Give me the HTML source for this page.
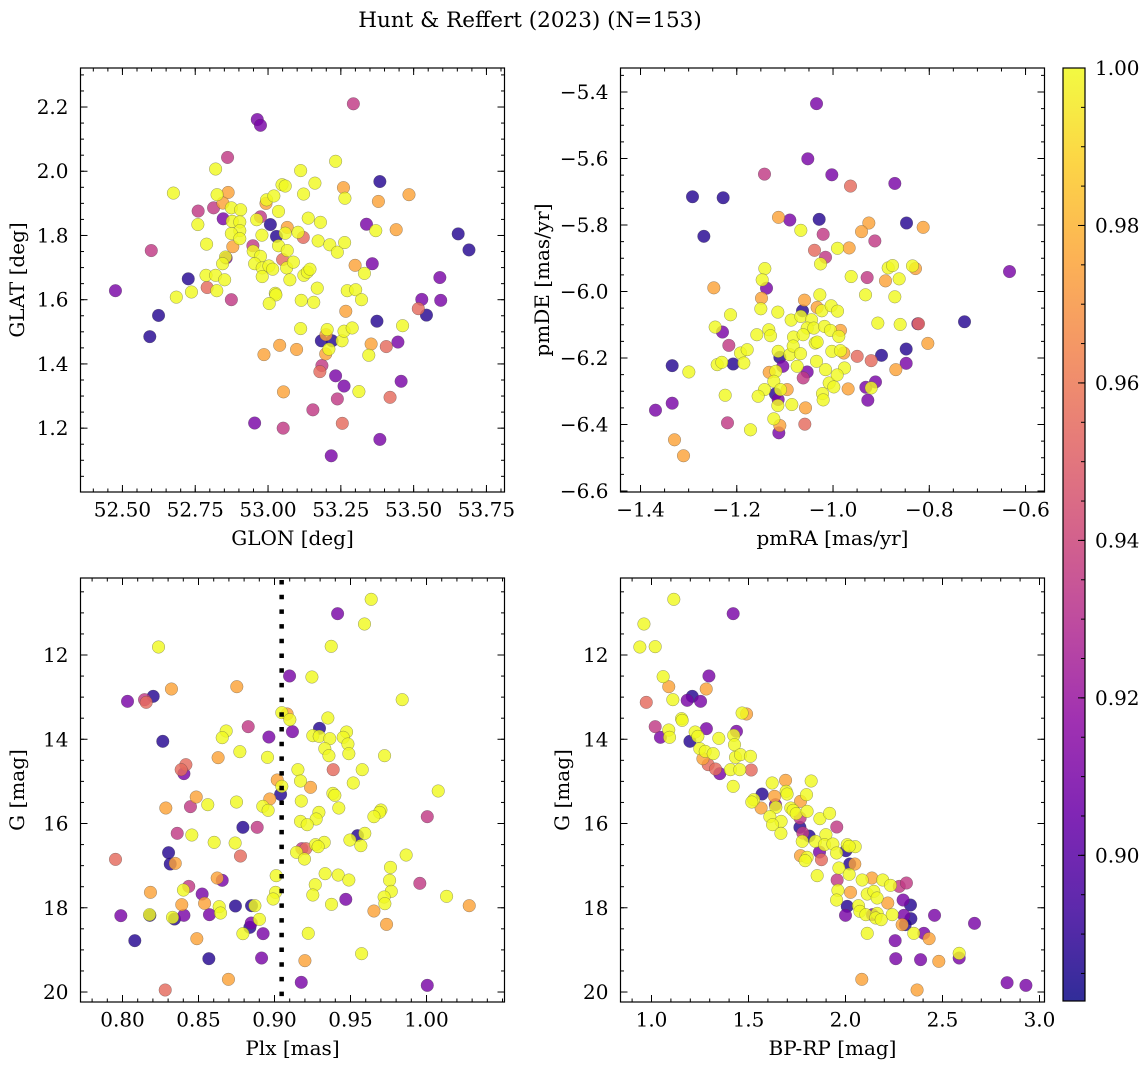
<!DOCTYPE html>
<html><head><meta charset="utf-8"><style>
body{margin:0;background:#fff;}
svg{display:block;font-family:"DejaVu Serif","Liberation Serif",serif;}
</style></head><body>
<svg id="fig" width="1148" height="1068" viewBox="0 0 1148 1068" xmlns="http://www.w3.org/2000/svg">
<rect width="1148" height="1068" fill="#fff"/>
<text x="530" y="27" font-size="21.5" text-anchor="middle">Hunt &amp; Reffert (2023) (N=153)</text>
</svg>
<script>
// ---------- Panel 1 data: GLON / GLAT ----------
const p1Glon = [53.293,52.963,52.974,52.861,52.820,53.112,53.232,53.384,52.675,52.825,52.863,53.048,53.059,53.161,53.122,53.259,53.264,53.379,53.484,52.760,52.813,52.845,52.846,52.874,52.906,52.877,52.903,52.903,52.874,52.903,52.759,52.974,52.961,52.995,52.993,53.020,53.036,53.008,53.029,53.066,53.059,53.103,53.121,53.138,53.180,52.979,52.789,52.879,52.948,52.949,52.974,52.854,52.856,52.844,53.036,53.066,53.050,53.064,53.087,53.075,52.954,52.980,53.003,53.016,52.980,53.123,53.135,53.144,53.172,53.212,53.238,53.263,53.338,53.370,53.440,53.299,53.331,53.358,53.653,53.690,52.599,52.726,52.787,52.820,52.851,52.791,52.824,52.737,52.685,52.874,52.476,53.025,53.027,53.004,53.114,53.157,53.169,53.272,53.301,53.321,53.590,53.528,53.593,53.516,53.544,52.624,52.594,53.267,53.374,53.462,53.112,53.203,53.199,53.183,53.220,53.254,53.261,53.289,53.209,53.198,53.040,53.098,52.986,53.354,53.346,53.406,53.446,53.185,53.178,53.232,53.261,53.312,53.053,53.238,53.419,53.457,53.154,53.255,52.954,53.052,53.384,53.217];
const p1Glat = [2.210,2.161,2.143,2.043,2.007,2.002,2.031,1.968,1.932,1.927,1.934,1.958,1.954,1.963,1.929,1.949,1.916,1.906,1.927,1.876,1.886,1.901,1.852,1.886,1.880,1.844,1.842,1.815,1.806,1.790,1.834,1.858,1.849,1.911,1.900,1.923,1.875,1.834,1.797,1.825,1.807,1.810,1.794,1.854,1.841,1.801,1.773,1.765,1.768,1.751,1.735,1.733,1.730,1.712,1.768,1.753,1.725,1.699,1.717,1.662,1.712,1.699,1.705,1.695,1.672,1.676,1.686,1.695,1.783,1.771,1.748,1.778,1.835,1.815,1.818,1.707,1.682,1.712,1.805,1.755,1.753,1.665,1.676,1.676,1.662,1.638,1.628,1.624,1.608,1.600,1.628,1.620,1.615,1.588,1.598,1.592,1.636,1.628,1.631,1.600,1.669,1.601,1.598,1.572,1.552,1.551,1.485,1.564,1.533,1.519,1.510,1.507,1.491,1.472,1.472,1.472,1.502,1.512,1.446,1.431,1.458,1.445,1.429,1.462,1.427,1.454,1.468,1.395,1.376,1.363,1.331,1.314,1.313,1.291,1.296,1.346,1.257,1.215,1.216,1.200,1.165,1.114];
const p1Prob = [.935,.91,.91,.935,1,1,1,.887,1,1,.975,1,1,1,1,.975,1,.975,.975,.935,.935,.975,.91,1,1,1,1,1,1,1,1,.935,1,1,.975,1,1,.887,.887,.975,1,1,.955,1,1,1,1,.975,.935,1,1,1,.91,1,1,1,.955,1,1,1,1,1,1,1,1,1,1,1,1,1,1,1,.91,1,.975,.975,1,.91,.887,.887,.935,.887,1,1,1,.955,1,1,1,.935,.91,1,1,1,1,1,1,1,1,1,.91,.91,.91,.955,.887,.887,.887,.975,.887,1,1,1,.975,.887,.887,1,1,1,1,.975,.975,.975,.975,.975,1,.955,.91,.935,.955,.91,.91,1,.975,.935,.955,.91,.935,.955,.91,.935,.91,.91];
const p1XTicks = [52.50,52.75,53.00,53.25,53.50,53.75];
const p1XLabels = ["52.50","52.75","53.00","53.25","53.50","53.75"];
const p1YTicks = [1.2,1.4,1.6,1.8,2.0,2.2];
const p1YLabels = ["1.2","1.4","1.6","1.8","2.0","2.2"];

// ---------- Panel 2 data: pmRA / pmDE ----------
const p2PmRA = [-1.0343,-1.0524,-1.1424,-1.0025,-0.9637,-0.8716,-1.2920,-1.2283,-1.2684,-1.1133,-1.0898,-1.0288,-1.0669,-1.0205,-0.9256,-0.9408,-0.8473,-0.8127,-0.9131,-1.0385,-0.9907,-0.9665,-1.0156,-1.0260,-1.1417,-1.1472,-1.1382,-1.1486,-1.1500,-1.2477,-0.9623,-0.9291,-0.9325,-0.8854,-0.8764,-0.8910,-0.8626,-0.8349,-0.8287,-0.8716,-0.6333,-1.0593,-1.0274,-1.0634,-1.0330,-1.0233,-1.0039,-0.9907,-1.1147,-1.0870,-1.0669,-1.0447,-1.0537,-1.0399,-1.0177,-1.0053,-0.9845,-0.9880,-1.2130,-1.2449,-1.2297,-1.1334,-1.1299,-1.1583,-1.0821,-1.0621,-1.0371,-1.0330,-0.9069,-0.8605,-0.8224,-0.8238,-0.7268,-1.2165,-1.1922,-1.1784,-1.1853,-1.2407,-1.2311,-1.2075,-1.1140,-1.1105,-1.0898,-1.0828,-1.0676,-1.1043,-1.0745,-1.0537,-1.0620,-1.0343,-1.0156,-1.0025,-0.9845,-0.9776,-0.9762,-0.9498,-0.9207,-0.8993,-0.8480,-0.8480,-0.8695,-0.8030,-1.3342,-1.2996,-1.1327,-1.1189,-1.1230,-1.1424,-1.1196,-1.1091,-1.0953,-1.1556,-1.1140,-1.1147,-1.0856,-1.0572,-1.0080,-0.9983,-1.0219,-1.0205,-0.9914,-0.9686,-0.9318,-0.9207,-0.9118,-0.9277,-1.2241,-1.3342,-1.3689,-1.2193,-1.1715,-1.1230,-1.1105,-1.1126,-1.0586,-1.3294,-1.3107];
const p2PmDE = [-5.435,-5.601,-5.647,-5.649,-5.683,-5.675,-5.715,-5.718,-5.834,-5.777,-5.785,-5.783,-5.816,-5.828,-5.794,-5.820,-5.794,-5.807,-5.848,-5.876,-5.870,-5.869,-5.897,-5.917,-5.931,-5.965,-5.990,-6.020,-6.052,-5.989,-5.955,-5.958,-6.010,-5.929,-5.922,-5.968,-5.962,-5.923,-5.931,-6.016,-5.940,-6.026,-6.010,-6.058,-6.048,-6.058,-6.043,-6.059,-6.062,-6.086,-6.075,-6.085,-6.110,-6.110,-6.105,-6.117,-6.117,-6.135,-6.070,-6.107,-6.122,-6.115,-6.133,-6.130,-6.137,-6.130,-6.155,-6.152,-6.095,-6.099,-6.097,-6.097,-6.091,-6.162,-6.185,-6.175,-6.215,-6.220,-6.213,-6.218,-6.180,-6.198,-6.190,-6.164,-6.187,-6.225,-6.225,-6.242,-6.260,-6.210,-6.235,-6.180,-6.178,-6.185,-6.230,-6.195,-6.208,-6.192,-6.173,-6.216,-6.235,-6.156,-6.223,-6.242,-6.243,-6.240,-6.270,-6.295,-6.308,-6.295,-6.295,-6.315,-6.325,-6.343,-6.340,-6.350,-6.275,-6.287,-6.307,-6.326,-6.251,-6.293,-6.288,-6.290,-6.272,-6.327,-6.312,-6.336,-6.357,-6.395,-6.416,-6.383,-6.403,-6.425,-6.399,-6.446,-6.494];
const p2Prob = [.91,.91,.935,.91,.955,.91,.887,.887,.887,.975,.91,.887,1,.935,.975,.975,.887,.975,.935,.955,1,.975,.935,1,1,1,.91,.975,1,.975,1,.935,1,1,1,.975,1,1,.975,1,.91,.975,1,.887,.975,1,1,1,1,1,1,1,1,1,1,1,.975,1,1,1,.91,1,1,1,1,1,1,1,1,1,.955,.91,.887,.935,1,1,1,1,1,.887,1,.887,1,1,1,.91,1,.91,.935,1,1,1,1,.975,1,.955,.955,.887,.887,.91,.975,.975,.887,1,.975,1,1,1,.887,1,.975,1,.91,1,1,.975,1,1,1,1,1,.975,.91,1,.91,.91,1,.91,.91,.935,1,1,.975,.91,.955,.975,.975];
const p2XTicks = [-1.4,-1.2,-1.0,-0.8,-0.6];
const p2XLabels = ["\u22121.4","\u22121.2","\u22121.0","\u22120.8","\u22120.6"];
const p2YTicks = [-6.6,-6.4,-6.2,-6.0,-5.8,-5.6,-5.4];
const p2YLabels = ["\u22126.6","\u22126.4","\u22126.2","\u22126.0","\u22125.8","\u22125.6","\u22125.4"];

// ---------- Panel 3 data: Plx / G ----------
const p3Plx = [0.9636,0.9415,0.9592,0.8237,0.9373,0.9099,0.9246,0.8752,0.8322,0.8033,0.8202,0.8145,0.8156,0.9840,0.9048,0.9083,0.9101,0.9351,0.8827,0.8963,0.8682,0.8656,0.9118,0.9296,0.9252,0.9294,0.9364,0.9474,0.9452,0.9483,0.9331,0.9358,0.9489,0.9724,0.8265,0.8772,0.8629,0.8954,0.8417,0.8386,0.8404,0.9154,0.9386,0.9577,0.9018,0.9171,0.9048,0.9237,0.9518,1.0077,0.9040,0.8969,0.9176,0.8485,0.8285,0.8447,0.8561,0.8750,0.8923,0.8958,0.9384,0.9397,0.9423,0.9292,0.9274,0.9700,0.9691,0.9654,1.0005,0.9171,0.9215,0.8792,0.8886,0.8360,0.8456,0.8603,0.8741,0.8776,0.9546,0.9594,0.9496,0.9568,0.9327,0.9270,0.9287,0.9180,0.9206,0.9145,0.9197,0.9866,0.8303,0.8314,0.8347,0.7954,0.9011,0.9333,0.9419,0.9489,0.9763,0.9757,0.9768,0.9721,0.9726,0.9956,0.9268,0.9252,1.0132,1.0281,0.9654,0.9737,0.9469,0.9375,0.8623,0.8656,0.8436,0.8401,0.8184,0.8524,0.8540,0.8390,0.8636,0.8645,0.8743,0.8849,0.8871,0.9007,0.8991,0.7989,0.8180,0.8178,0.8342,0.8329,0.8404,0.8572,0.8901,0.8847,0.8838,0.8792,0.8925,0.8081,0.8489,0.8568,0.8915,0.9222,0.9200,0.9573,0.8697,0.8281,0.9176,1.0005];
const p3G = [10.678,11.019,11.264,11.810,11.794,12.498,12.522,12.752,12.807,13.100,12.981,13.060,13.124,13.060,13.369,13.400,13.535,13.495,13.701,13.947,13.804,13.962,13.820,13.741,13.915,13.931,13.986,13.828,13.954,14.113,14.223,14.390,14.342,14.390,14.049,14.295,14.437,14.429,14.603,14.722,14.817,14.722,14.722,14.722,14.967,14.991,15.118,15.141,15.038,15.228,15.308,15.418,15.466,15.371,15.632,15.600,15.553,15.490,15.592,15.687,15.284,15.331,15.632,15.735,15.893,15.680,15.735,15.838,15.838,15.949,16.028,16.091,16.091,16.233,16.273,16.447,16.463,16.772,16.289,16.233,16.392,16.526,16.447,16.502,16.550,16.597,16.597,16.684,16.843,16.748,16.692,16.961,16.946,16.851,17.238,17.191,17.223,17.341,17.041,17.349,17.610,17.745,17.903,17.420,17.452,17.697,17.729,17.951,18.077,18.394,17.800,17.919,17.294,17.349,17.492,17.579,17.634,17.674,17.895,17.927,17.974,18.125,17.958,17.951,17.951,17.634,17.792,18.188,18.180,18.164,18.267,18.228,18.180,18.164,18.275,18.362,18.465,18.615,18.615,18.781,18.734,19.209,19.193,18.607,19.256,19.090,19.699,19.952,19.770,19.842];
const p3Prob = [1,.91,1,1,1,.91,1,.975,.975,.91,.887,.935,.955,1,1,.975,1,1,.935,.91,1,1,.91,.887,1,1,1,1,1,1,1,1,1,1,.887,1,.975,1,.955,.955,.91,1,.955,1,.975,1,1,.975,1,1,.887,.975,1,.975,.975,.935,1,1,1,1,1,1,1,1,1,1,1,1,.935,1,1,.887,.935,.935,1,1,1,.955,.887,1,1,1,1,1,1,.935,.955,1,1,1,.887,.887,.975,.955,1,1,1,1,1,1,1,1,1,.935,1,1,1,.975,.975,.975,.91,1,.975,.91,.935,1,.975,.91,.975,.975,1,1,.887,.887,1,1,1,.91,.887,1,.887,1,.91,.91,1,.91,.887,1,.91,.887,.975,.887,.91,1,.975,1,.975,.955,.91,.91];
const p3XTicks = [0.80,0.85,0.90,0.95,1.00];
const p3XLabels = ["0.80","0.85","0.90","0.95","1.00"];
const p3YTicks = [12,14,16,18,20];
const p3YLabels = ["12","14","16","18","20"];
const p3CutPlx = [0.9047];

// ---------- Panel 4 data: BP-RP / G ----------
const p4BpRp = [1.115,1.421,0.961,0.940,1.019,1.060,1.296,1.089,1.282,0.973,1.110,1.184,1.210,1.253,1.467,1.490,1.155,1.158,1.019,1.046,1.089,1.093,1.283,1.198,1.225,1.239,1.347,1.438,1.424,1.428,1.249,1.277,1.318,1.265,1.292,1.330,1.352,1.407,1.455,1.433,1.459,1.510,1.514,1.421,1.691,1.823,1.622,1.570,1.634,1.694,1.699,1.799,1.527,1.517,1.565,1.639,1.641,1.768,1.718,1.730,1.746,1.766,1.802,1.610,1.668,1.624,1.667,1.868,1.918,1.955,1.765,1.780,1.813,1.777,1.845,1.899,1.892,1.935,2.009,2.050,2.002,2.019,1.866,1.768,1.802,1.876,1.954,1.792,2.022,2.048,1.966,2.019,1.854,1.957,2.086,2.136,2.192,2.232,2.277,2.314,1.961,2.026,2.112,2.146,2.163,2.218,2.297,2.335,1.954,2.009,2.000,2.067,2.074,2.105,2.139,2.163,2.156,2.184,2.241,2.301,2.337,2.308,2.292,2.352,2.404,2.431,2.112,2.459,2.665,2.256,2.259,2.387,2.481,2.586,2.586,2.084,2.369,2.833,2.930];
const p4G = [10.678,11.019,11.264,11.810,11.802,12.514,12.498,12.752,12.807,13.124,13.060,13.076,12.981,13.100,13.377,13.400,13.511,13.551,13.701,13.954,13.780,13.954,13.749,14.049,13.828,13.931,13.978,13.812,13.907,14.129,14.223,14.287,14.342,14.461,14.603,14.706,14.817,14.722,14.722,14.429,14.366,14.405,14.730,15.118,14.975,14.991,15.038,15.300,15.355,15.236,15.300,15.315,15.434,15.490,15.632,15.553,15.616,15.474,15.632,15.687,15.766,15.870,15.711,15.838,15.949,16.028,16.233,15.885,15.759,16.083,16.091,16.226,16.297,16.423,16.423,16.265,16.502,16.487,16.502,16.550,16.645,16.542,16.677,16.764,16.803,16.859,16.700,16.882,16.961,16.961,17.056,17.207,17.238,17.341,17.341,17.294,17.341,17.468,17.492,17.412,17.586,17.634,17.674,17.610,17.768,17.887,17.816,17.935,17.816,17.966,18.180,17.951,18.085,18.164,18.164,18.133,18.243,18.283,18.164,18.180,18.259,18.401,18.401,18.607,18.607,18.734,18.607,18.180,18.370,18.781,19.209,19.232,19.272,19.193,19.082,19.699,19.952,19.779,19.842];
const p4Prob = [1,.91,1,1,1,1,.91,.975,.975,.955,1,.91,.887,.91,1,.975,1,1,.935,.91,1,1,.91,.887,1,1,1,.91,1,1,1,1,1,.975,.955,.955,.91,1,1,1,1,1,.955,1,.975,1,1,.887,.975,1,1,1,1,1,.975,.91,1,.975,1,1,1,.935,1,1,1,1,1,1,1,.935,.887,.935,.887,1,1,1,1,1,1,1,.887,1,.91,.975,1,.955,1,1,.887,.975,1,1,1,.935,1,.975,1,1,.935,.935,1,.975,1,1,1,.975,.91,.887,1,.887,.91,1,1,1,.91,1,1,1,1,.91,.887,.887,.975,1,.91,.975,1,.91,.91,.91,.91,.91,.975,.91,1,.975,.975,.91,.91];
const p4XTicks = [1.0,1.5,2.0,2.5,3.0];
const p4XLabels = ["1.0","1.5","2.0","2.5","3.0"];
const p4YTicks = [12,14,16,18,20];
const p4YLabels = ["12","14","16","18","20"];

// ---------- Colorbar ----------
const cbTicks = [0.90,0.92,0.94,0.96,0.98,1.00];
const cbLabels = ["0.90","0.92","0.94","0.96","0.98","1.00"];
const cbMin = 0.8815, cbMax = 1.0;

const FS = 20;
const NS = "http://www.w3.org/2000/svg";
const svg = document.getElementById('fig');
function mk(tag, attrs, parent){
  const e = document.createElementNS(NS, tag);
  for (const k in attrs) e.setAttribute(k, attrs[k]);
  (parent||svg).appendChild(e);
  return e;
}
const plasmaStops = ["#0d0887","#41049d","#6a00a8","#8f0da4","#b12a90","#cc4778","#e16462","#f2844b","#fca636","#fcce25","#f0f921"];
function hex2rgb(h){return [parseInt(h.substr(1,2),16),parseInt(h.substr(3,2),16),parseInt(h.substr(5,2),16)];}
function plasma(t){
  t = Math.max(0, Math.min(1, t));
  const s = t*10, i = Math.min(9, Math.floor(s)), f = s - i;
  const a = hex2rgb(plasmaStops[i]), b = hex2rgb(plasmaStops[i+1]);
  return 'rgb(' + a.map((v,k)=>Math.round(v+(b[k]-v)*f)).join(',') + ')';
}
function cmap(p){ return plasma((p-cbMin)/(cbMax-cbMin)); }

function panel(o){
  const g = mk('g', {});
  
  
  const L=o.x0, T=o.y0, W=424, H=424;
  const sx = v => L + (v-o.xmin)/(o.xmax-o.xmin)*W;
  const sy = o.invert ? (v => T + (v-o.ymin)/(o.ymax-o.ymin)*H) : (v => T + (o.ymax-v)/(o.ymax-o.ymin)*H);
  const n = Math.min(o.xs.length, o.ys.length, o.ps.length);
  const idx = [];
  for (let i=0;i<n;i++) idx.push(i);
  idx.sort((a,b)=>o.ps[a]-o.ps[b]);
  const pg = mk('g', {}, g);
  
  
  for (const i of idx){
    const c = mk('circle', {cx:sx(o.xs[i]), cy:sy(o.ys[i]), r:6.3, fill:cmap(o.ps[i]), 'fill-opacity':0.82, stroke:'#444', 'stroke-opacity':0.55, 'stroke-width':0.5}, pg);
    
    
  }
  if (o.vline){
    for (const v of o.vline){
      const l = mk('line', {x1:sx(v), x2:sx(v), y1:T+2, y2:T+H, stroke:'#000', 'stroke-width':4.5, 'stroke-dasharray':'4.5 10.2'}, g);
      
      
    }
  }
  const fr = mk('rect', {x:L, y:T, width:W, height:H, fill:'none', stroke:'#000', 'stroke-width':1.2}, g);
  
  
  const tk = mk('g', {stroke:'#000','stroke-width':1}, g);
  
  
  const lo = Math.ceil(o.xmin/o.xminor - 1e-9), hi = Math.floor(o.xmax/o.xminor + 1e-9);
  for (let k=lo;k<=hi;k++){ const x=sx(k*o.xminor); mk('line',{x1:x,x2:x,y1:T+H,y2:T+H-3.5},tk); mk('line',{x1:x,x2:x,y1:T,y2:T+3.5},tk); }
  const lo2 = Math.ceil(o.ymin/o.yminor - 1e-9), hi2 = Math.floor(o.ymax/o.yminor + 1e-9);
  for (let k=lo2;k<=hi2;k++){ const y=sy(k*o.yminor); mk('line',{x1:L,x2:L+3.5,y1:y,y2:y},tk); mk('line',{x1:L+W,x2:L+W-3.5,y1:y,y2:y},tk); }
  o.xt.forEach((v,i)=>{
    const x=sx(v);
    mk('line',{x1:x,x2:x,y1:T+H,y2:T+H-7},tk); mk('line',{x1:x,x2:x,y1:T,y2:T+7},tk);
    const t = mk('text',{x:x, y:T+H+24.5, 'font-size':FS, 'text-anchor':'middle'}, g);
    t.textContent = o.xl[i];
    
    
  });
  o.yt.forEach((v,i)=>{
    const y=sy(v);
    mk('line',{x1:L,x2:L+7,y1:y,y2:y},tk); mk('line',{x1:L+W,x2:L+W-7,y1:y,y2:y},tk);
    const t = mk('text',{x:L-12, y:y+7, 'font-size':FS, 'text-anchor':'end'}, g);
    t.textContent = o.yl[i];
    
    
  });
  const xt = mk('text',{x:L+W/2, y:T+H+53, 'font-size':FS, 'text-anchor':'middle'}, g);
  xt.textContent = o.xlabel;
  
  
  const yx = o.ylabX, yy = T+H/2;
  const yt = mk('text',{x:yx, y:yy, 'font-size':FS, 'text-anchor':'middle', transform:'rotate(-90 '+yx+' '+yy+')'}, g);
  yt.textContent = o.ylabel;
  
  
}

panel({name:'panel-glon-glat', x0:80.5, y0:68, xmin:52.356, xmax:53.812, ymin:1.0012, ymax:2.3215, xminor:0.05, yminor:0.05,
  xs:p1Glon, ys:p1Glat, ps:p1Prob, xt:p1XTicks, xl:p1XLabels, yt:p1YTicks, yl:p1YLabels, xlabel:'GLON [deg]', ylabel:'GLAT [deg]', ylabX:24});
panel({name:'panel-pmra-pmde', x0:620.5, y0:68, xmin:-1.4416, xmax:-0.5606, ymin:-6.603, ymax:-5.3278, xminor:0.05, yminor:0.05,
  xs:p2PmRA, ys:p2PmDE, ps:p2Prob, xt:p2XTicks, xl:p2XLabels, yt:p2YTicks, yl:p2YLabels, xlabel:'pmRA [mas/yr]', ylabel:'pmDE [mas/yr]', ylabX:549});
panel({name:'panel-plx-g', x0:80.5, y0:578, xmin:0.77237, xmax:1.0513, ymin:10.172, ymax:20.237, invert:true, xminor:0.01, yminor:0.5,
  xs:p3Plx, ys:p3G, ps:p3Prob, xt:p3XTicks, xl:p3XLabels, yt:p3YTicks, yl:p3YLabels, xlabel:'Plx [mas]', ylabel:'G [mag]', ylabX:24, vline:p3CutPlx});
panel({name:'panel-bprp-g', x0:620.5, y0:578, xmin:0.8402, xmax:3.0258, ymin:10.172, ymax:20.237, invert:true, xminor:0.1, yminor:0.5,
  xs:p4BpRp, ys:p4G, ps:p4Prob, xt:p4XTicks, xl:p4XLabels, yt:p4YTicks, yl:p4YLabels, xlabel:'BP-RP [mag]', ylabel:'G [mag]', ylabX:569});

(function(){
  const X=1063, T=68, W=22, B=1001;
  const g = mk('g', {});
  
  
  const defs = mk('defs', {}, g);
  const lg = mk('linearGradient', {id:'cbg', x1:0, y1:1, x2:0, y2:0}, defs);
  for (let i=0;i<=20;i++){ mk('stop', {offset:(i/20), 'stop-color':plasma(i/20)}, lg); }
  const r = mk('rect', {x:X, y:T, width:W, height:B-T, fill:'url(#cbg)', 'fill-opacity':0.85, stroke:'#000', 'stroke-width':1.2}, g);
  
  
  const sy = v => B - (v-cbMin)/(cbMax-cbMin)*(B-T);
  for (let k=Math.ceil(cbMin/0.005); k<=Math.floor(cbMax/0.005+1e-9); k++){
    const y = sy(k*0.005);
    mk('line', {x1:X+W, x2:X+W-4, y1:y, y2:y, stroke:'#000'}, g);
  }
  cbTicks.forEach((v,i)=>{
    const y = sy(v);
    mk('line', {x1:X+W, x2:X+W-7, y1:y, y2:y, stroke:'#000'}, g);
    const t = mk('text', {x:X+W+10, y:y+7, 'font-size':FS}, g);
    t.textContent = cbLabels[i];
    
    
  });
})();
</script>
</body></html>
